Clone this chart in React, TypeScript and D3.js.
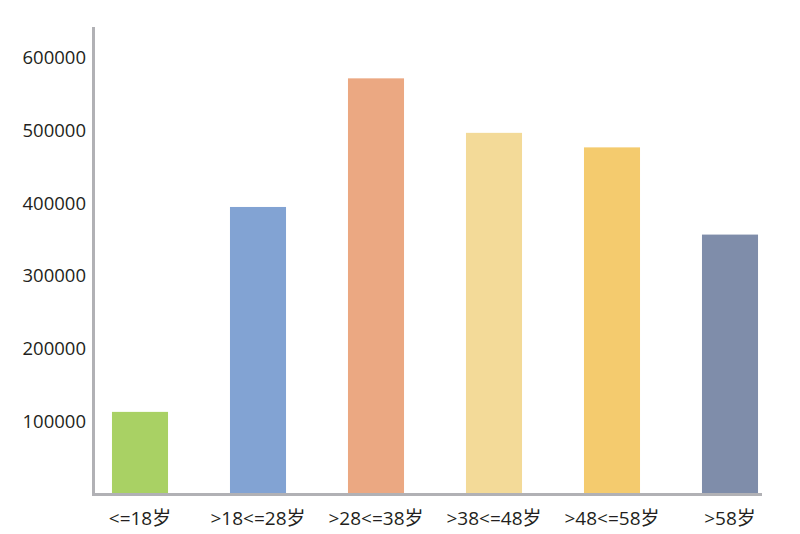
import React, { useEffect, useRef } from 'react'
import * as d3 from 'd3'

const categories = ['<=18岁', '>18<=28岁', '>28<=38岁', '>38<=48岁', '>48<=58岁', '>58岁']
const values = [113000, 395000, 572000, 497000, 477000, 357000]
const barColors = ['#a9d164', '#82a3d3', '#eba882', '#f3da98', '#f4cb6e', '#7f8daa']
const yTicks = [100000, 200000, 300000, 400000, 500000, 600000]

const width = 800
const height = 534

export default function App() {
    const ref = useRef<SVGSVGElement>(null)

    useEffect(() => {
        const svg = d3.select(ref.current)
        svg.selectAll('*').remove()

        const x = d3.scaleBand()
            .domain(categories)
            .range([81, 789])
            .paddingInner(0.525)
            .paddingOuter(0.2625)
        const y = d3.scaleLinear()
            .domain([0, 600000])
            .range([494, 58])

        // bars
        svg.append('g')
            .selectAll('rect')
            .data(values)
            .enter()
            .append('rect')
            .attr('x', (d, i) => x(categories[i]) as number)
            .attr('y', d => y(d))
            .attr('width', x.bandwidth())
            .attr('height', d => y(0) - y(d))
            .attr('fill', (d, i) => barColors[i])

        // axis lines
        svg.append('line')
            .attr('x1', 93.5).attr('x2', 93.5)
            .attr('y1', 27).attr('y2', 496)
            .attr('stroke', '#b1b1b5').attr('stroke-width', 3)
        svg.append('line')
            .attr('x1', 92).attr('x2', 762)
            .attr('y1', 494.5).attr('y2', 494.5)
            .attr('stroke', '#b1b1b5').attr('stroke-width', 3)

        // y tick labels
        svg.append('g')
            .selectAll('text')
            .data(yTicks)
            .enter()
            .append('text')
            .attr('x', 86)
            .attr('y', d => y(d))
            .attr('dy', '0.35em')
            .attr('text-anchor', 'end')
            .attr('font-family', '"Open Sans", "Noto Sans CJK SC", sans-serif')
            .attr('font-size', 18.5)
            .attr('fill', '#231f20')
            .text(d => String(d))

        // category labels
        svg.append('g')
            .selectAll('text')
            .data(categories)
            .enter()
            .append('text')
            .attr('x', d => (x(d) as number) + x.bandwidth() / 2)
            .attr('y', 518)
            .attr('dy', '0.35em')
            .attr('text-anchor', 'middle')
            .attr('font-family', '"Open Sans", "Noto Sans CJK SC", sans-serif')
            .attr('font-size', 19)
            .attr('fill', '#231f20')
            .text(d => d)
    }, [])

    return (
        <div style={{ position: 'absolute', left: 0, top: 0 }}>
            <svg ref={ref} width={width} height={height} style={{ display: 'block', background: '#fff' }} />
        </div>
    )
}
